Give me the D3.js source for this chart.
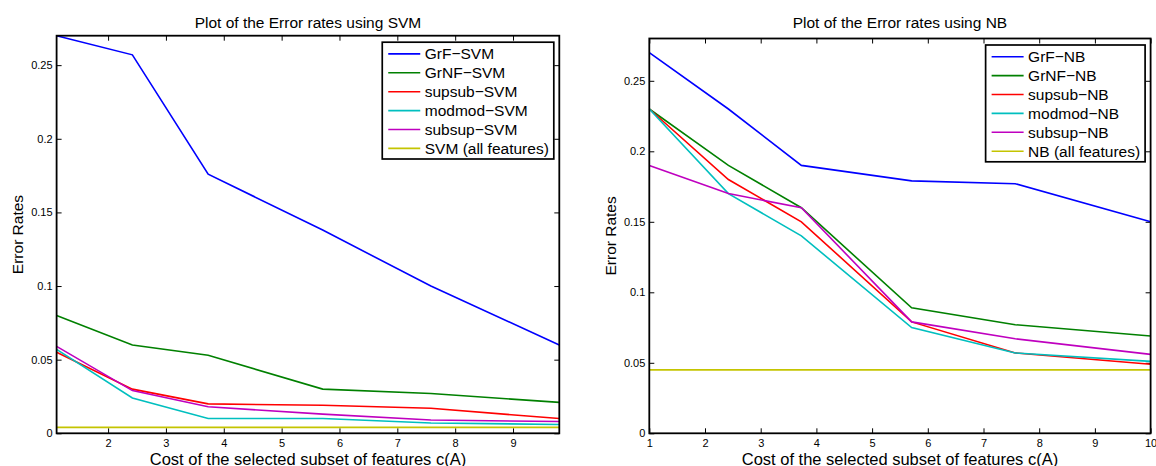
<!DOCTYPE html>
<html>
<head>
<meta charset="utf-8">
<script src="https://cdn.jsdelivr.net/npm/d3@7"></script>
<style>
body { margin: 0; background: #fff; }
svg { display: block; font-family: "Liberation Sans", Arial, Helvetica, sans-serif; }
</style>
</head>
<body>
<svg id="chart" width="1156" height="466"></svg>
<script>
// x positions (cost c(A)) of the points in each panel
const svmX = [1.11, 2.42, 3.73, 5.71, 7.58, 9.8];
const nbX = [1, 2.42, 3.73, 5.71, 7.57, 10];

const svmNames = ['GrF\u2212SVM', 'GrNF\u2212SVM', 'supsub\u2212SVM', 'modmod\u2212SVM', 'subsup\u2212SVM', 'SVM (all features)'];
const nbNames = ['GrF\u2212NB', 'GrNF\u2212NB', 'supsub\u2212NB', 'modmod\u2212NB', 'subsup\u2212NB', 'NB (all features)'];

// error rates
const svmGrF = [0.27, 0.257, 0.176, 0.138, 0.1, 0.06];
const svmGrNF = [0.08, 0.06, 0.053, 0.03, 0.027, 0.021];
const svmSupsub = [0.055, 0.03, 0.02, 0.019, 0.017, 0.01];
const svmModmod = [0.057, 0.024, 0.01, 0.01, 0.007, 0.006];
const svmSubsup = [0.059, 0.029, 0.018, 0.013, 0.009, 0.008];
const svmAll = [0.004, 0.004, 0.004, 0.004, 0.004, 0.004];

const nbGrF = [0.27, 0.23, 0.19, 0.179, 0.177, 0.15];
const nbGrNF = [0.23, 0.19, 0.16, 0.089, 0.077, 0.069];
const nbSupsub = [0.23, 0.18, 0.15, 0.079, 0.057, 0.049];
const nbModmod = [0.23, 0.17, 0.14, 0.075, 0.057, 0.051];
const nbSubsup = [0.19, 0.17, 0.16, 0.079, 0.067, 0.056];
const nbAll = [0.045, 0.045, 0.045, 0.045, 0.045, 0.045];

const yTicks = [0, 0.05, 0.1, 0.15, 0.2, 0.25];
const svmXTicks = [2, 3, 4, 5, 6, 7, 8, 9];
const nbXTicks = [1, 2, 3, 4, 5, 6, 7, 8, 9, 10];

const colors = ['#0000ff', '#008000', '#ff0000', '#00bfbf', '#bf00bf', '#c4c400'];

const svg = d3.select('#chart');
svg.append('rect').attr('width', 1156).attr('height', 466).attr('fill', '#fff');

function drawPanel(p) {
    const x = d3.scaleLinear().domain(p.xDomain).range([p.left, p.right]);
    const y = d3.scaleLinear().domain(p.yDomain).range([p.bottom, p.top]);
    const g = svg.append('g');

    // inward ticks on all four sides, matlab style
    const fmtY = d => d === 0 ? '0' : String(+d.toFixed(2));
    g.append('g').attr('transform', `translate(0,${p.bottom})`)
        .call(d3.axisBottom(x).tickValues(p.xTicks).tickSize(-5).tickPadding(6).tickFormat(d3.format('d')));
    g.append('g').attr('transform', `translate(0,${p.top})`)
        .call(d3.axisTop(x).tickValues(p.xTicks).tickSize(-5).tickFormat(''));
    g.append('g').attr('transform', `translate(${p.left},0)`)
        .call(d3.axisLeft(y).tickValues(yTicks).tickSize(-5).tickPadding(4).tickFormat(fmtY));
    g.append('g').attr('transform', `translate(${p.right},0)`)
        .call(d3.axisRight(y).tickValues(yTicks).tickSize(-5).tickFormat(''));
    g.selectAll('.domain').remove();
    g.selectAll('.tick line').attr('stroke', '#000').attr('stroke-width', 1);
    g.selectAll('.tick text').attr('fill', '#000').style('font-size', '11px')
        .style('font-family', '"Liberation Sans", Arial, sans-serif');

    const line = d3.line().x(d => x(d[0])).y(d => y(d[1]));
    p.series.forEach((s, i) => {
        g.append('path')
            .datum(p.xs.map((xv, j) => [xv, s[j]]))
            .attr('d', line)
            .attr('fill', 'none')
            .attr('stroke', colors[i])
            .attr('stroke-width', 1.6);
    });

    g.append('rect')
        .attr('x', p.left).attr('y', p.top)
        .attr('width', p.right - p.left).attr('height', p.bottom - p.top)
        .attr('fill', 'none').attr('stroke', '#000').attr('stroke-width', 1.8);

    // legend
    const leg = g.append('g');
    const box = leg.append('rect').attr('fill', '#fff').attr('stroke', '#000').attr('stroke-width', 1.7);
    let maxW = 0;
    const rowH = 18.9;
    p.names.forEach((n, i) => {
        const cy = 11.7 + i * rowH;
        leg.append('line')
            .attr('x1', 6).attr('x2', 38).attr('y1', cy).attr('y2', cy)
            .attr('stroke', colors[i]).attr('stroke-width', 1.6);
        const t = leg.append('text')
            .attr('x', 42.5).attr('y', cy + 5.4)
            .style('font-size', '15.5px')
            .text(n);
        maxW = Math.max(maxW, t.node().getComputedTextLength());
    });
    const bw = 42.5 + maxW + 5;
    const bh = 11.7 + 5 * rowH + 10.6;
    box.attr('width', bw).attr('height', bh);
    leg.attr('transform', `translate(${p.right - 5.5 - bw},${p.top + 6.5})`);

    // titles
    const cx = (p.left + p.right) / 2;
    g.append('text').attr('x', cx).attr('y', 28.2).attr('text-anchor', 'middle')
        .style('font-size', '15.5px').text(p.title);
    g.append('text').attr('x', cx).attr('y', 464.5).attr('text-anchor', 'middle')
        .style('font-size', '16.5px').text('Cost of the selected subset of features c(A)');
    g.append('text')
        .attr('transform', `translate(${p.left - 33.5},${(p.top + p.bottom) / 2}) rotate(-90)`)
        .attr('text-anchor', 'middle')
        .style('font-size', '15.5px').text('Error Rates');
}

drawPanel({
    left: 56.6, right: 559.3, top: 35.7, bottom: 433.3,
    xDomain: [1.11, 9.8], yDomain: [0, 0.27], xTicks: svmXTicks,
    xs: svmX,
    series: [svmGrF, svmGrNF, svmSupsub, svmModmod, svmSubsup, svmAll],
    names: svmNames,
    title: 'Plot of the Error rates using SVM'
});

drawPanel({
    left: 649.3, right: 1150.6, top: 38.5, bottom: 433.3,
    xDomain: [1, 10], yDomain: [0, 0.28], xTicks: nbXTicks,
    xs: nbX,
    series: [nbGrF, nbGrNF, nbSupsub, nbModmod, nbSubsup, nbAll],
    names: nbNames,
    title: 'Plot of the Error rates using NB'
});
</script>
</body>
</html>
